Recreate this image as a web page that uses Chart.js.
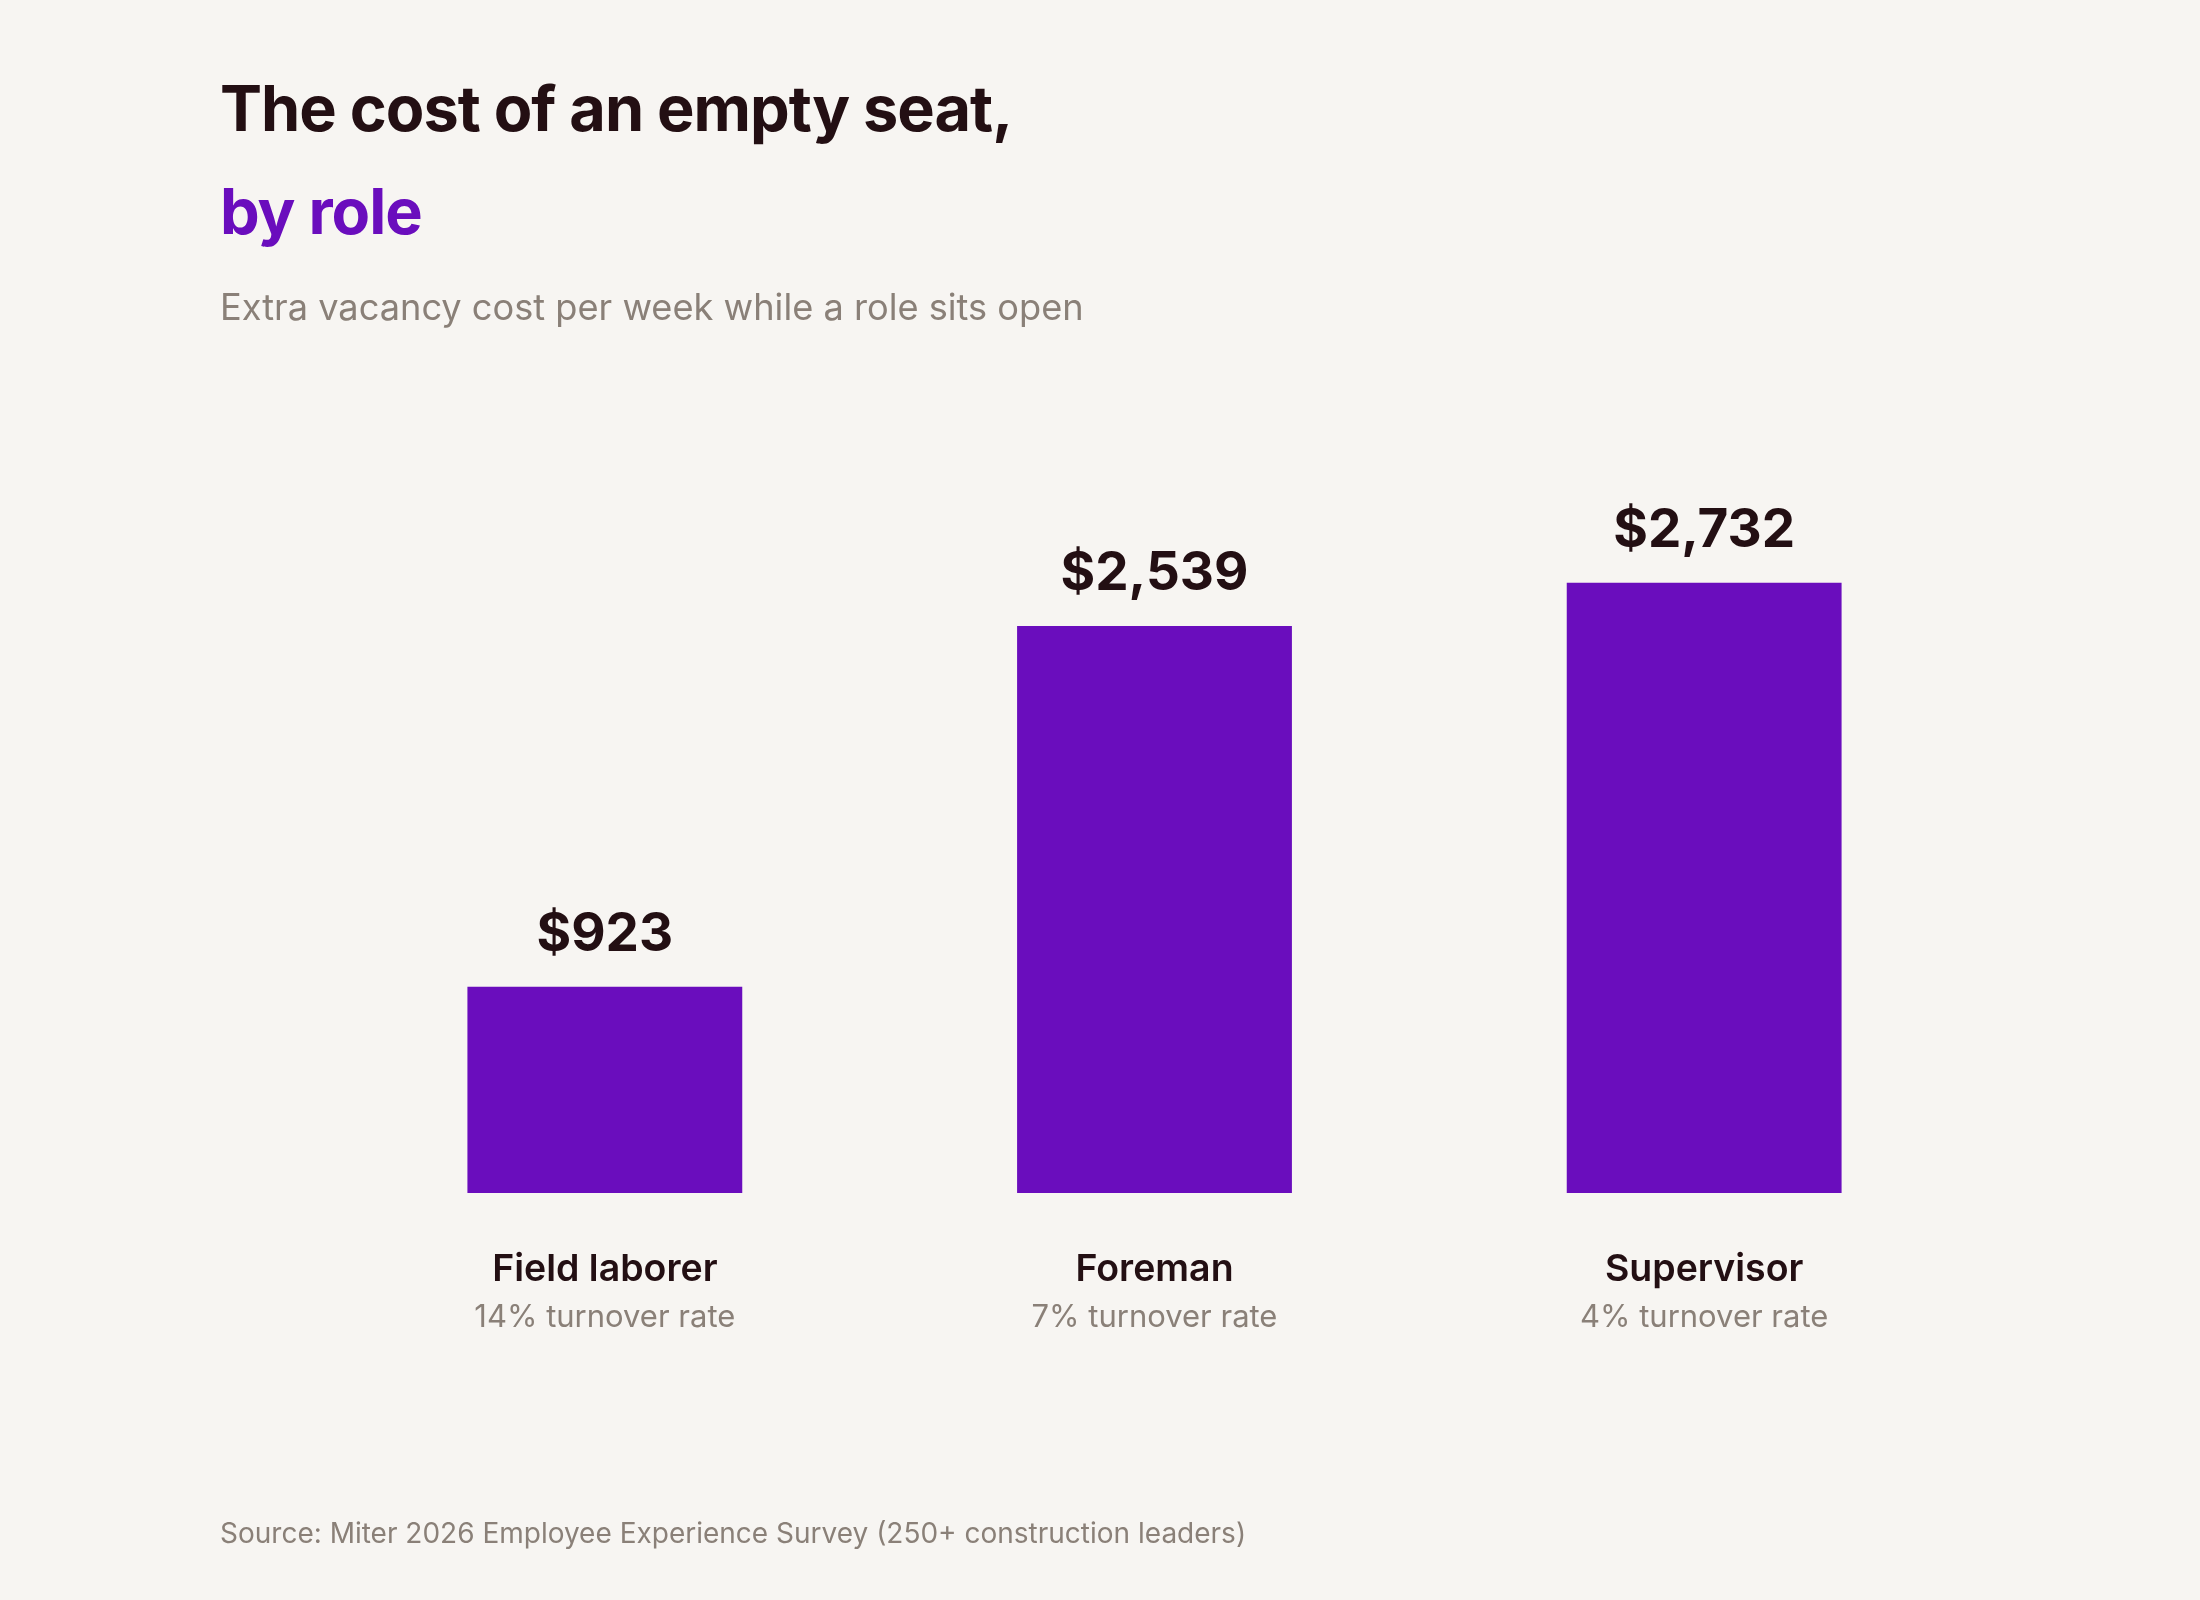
<!DOCTYPE html>
<html>
<head>
<meta charset="utf-8">
<script src="https://cdn.jsdelivr.net/npm/chart.js@4.4.1/dist/chart.umd.min.js"></script>
<style>
  html, body {
    margin: 0;
    padding: 0;
    background: #f7f5f2;
    width: 2200px;
    height: 1600px;
    overflow: hidden;
    font-family: Inter, "Noto Sans", sans-serif;
  }
  #wrap {
    position: relative;
    width: 2200px;
    height: 1600px;
  }
  #chartBox {
    position: absolute;
    left: 0;
    top: 0;
    width: 2200px;
    height: 1600px;
  }
  .txt {
    position: absolute;
    left: 220px;
    margin: 0;
    white-space: nowrap;
    line-height: 1;
  }
  #title {
    top: 77px;
    font-size: 63px;
    font-weight: 700;
    letter-spacing: -1px;
    color: #230f13;
  }
  #subtitle {
    top: 180px;
    font-size: 63px;
    font-weight: 700;
    letter-spacing: -1px;
    color: #6a0dbd;
  }
  #desc {
    top: 289px;
    font-size: 36.2px;
    font-weight: 400;
    color: #8a8078;
  }
  #source {
    top: 1519px;
    font-size: 28px;
    font-weight: 400;
    color: #8a8078;
  }
</style>
</head>
<body>
<div id="wrap">
  <div id="chartBox"><canvas id="myChart"></canvas></div>
  <h1 class="txt" id="title">The cost of an empty seat,</h1>
  <h2 class="txt" id="subtitle">by role</h2>
  <p class="txt" id="desc">Extra vacancy cost per week while a role sits open</p>
  <p class="txt" id="source">Source: Miter 2026 Employee Experience Survey (250+ construction leaders)</p>
</div>
<script>
// chart data
const roles = ['Field laborer', 'Foreman', 'Supervisor'];
const turnover = ['14% turnover rate', '7% turnover rate', '4% turnover rate'];
const weeklyCost = [923, 2539, 2732];

const purple = '#6a0dbd';
const dark = '#230f13';
const gray = '#8a8078';

function money(v) {
    return '$' + v.toLocaleString('en-US');
}

// draws the value above each bar and the two-line role label under it
const barLabels = {
    id: 'barLabels',
    afterDatasetsDraw(chart) {
        const { ctx, chartArea } = chart;
        const meta = chart.getDatasetMeta(0);
        ctx.save();
        ctx.textAlign = 'center';
        ctx.textBaseline = 'alphabetic';
        meta.data.forEach((bar, i) => {
            ctx.fillStyle = dark;
            ctx.font = '700 53px Inter';
            ctx.fillText(money(weeklyCost[i]), bar.x, bar.y - 36);

            ctx.font = '600 37.5px Inter';
            ctx.fillText(roles[i], bar.x, chartArea.bottom + 88);

            ctx.fillStyle = gray;
            ctx.font = '400 31px Inter';
            ctx.fillText(turnover[i], bar.x, chartArea.bottom + 134);
        });
        ctx.restore();
    }
};

document.addEventListener('DOMContentLoaded', () => {
    const ctx = document.getElementById('myChart').getContext('2d');
    new Chart(ctx, {
        type: 'bar',
        data: {
            labels: roles,
            datasets: [{
                label: 'Extra vacancy cost per week',
                data: weeklyCost,
                backgroundColor: purple,
                borderWidth: 0,
                barPercentage: 0.5,
                categoryPercentage: 1.0
            }]
        },
        options: {
            responsive: true,
            maintainAspectRatio: false,
            animation: false,
            layout: {
                padding: { left: 330, right: 221, top: 523, bottom: 407 }
            },
            plugins: {
                legend: { display: false },
                tooltip: { enabled: false }
            },
            scales: {
                x: { display: false },
                y: { display: false, min: 0, max: 3000 }
            }
        },
        plugins: [barLabels]
    });
});
</script>
</body>
</html>
